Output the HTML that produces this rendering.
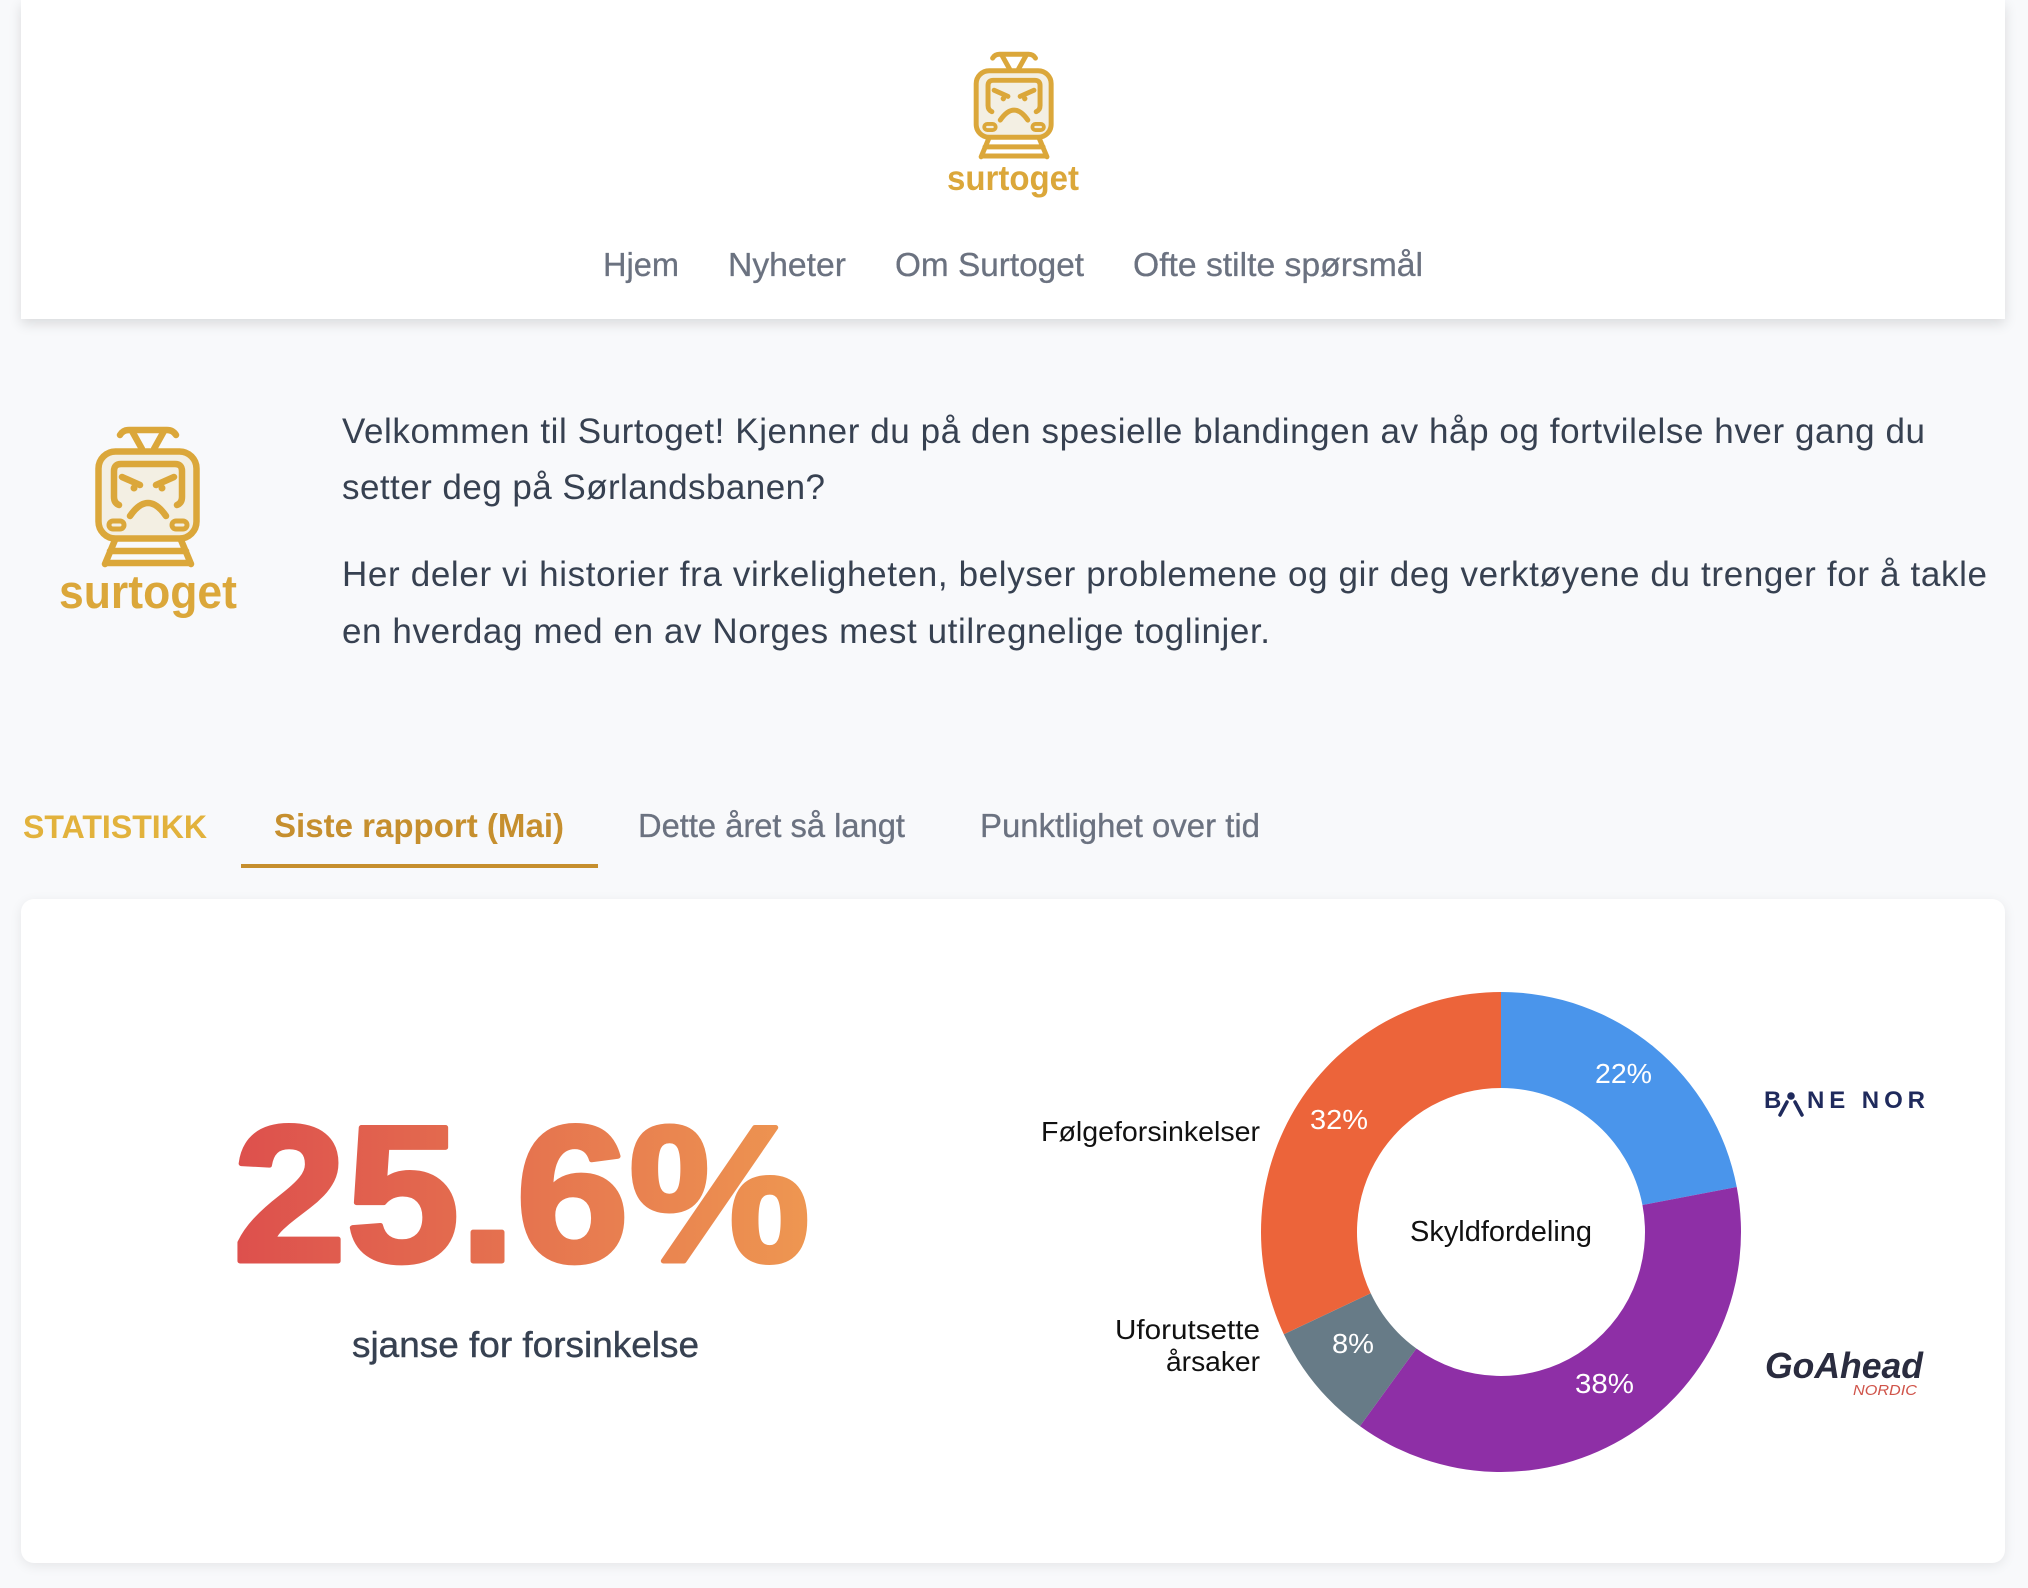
<!DOCTYPE html>
<html>
<head>
<meta charset="utf-8">
<style>
  html, body { margin:0; padding:0; }
  body { width:2028px; height:1588px; overflow:hidden; background:#f8f9fb; position:relative; font-family:"Liberation Sans", sans-serif; }
  .header { position:absolute; left:21px; top:0; width:1984px; height:319px; background:#fff; box-shadow:0 5px 12px rgba(0,0,0,0.12); }
  .card { position:absolute; left:21px; top:899px; width:1984px; height:664px; background:#fff; border-radius:13px; box-shadow:0 3px 12px rgba(0,0,0,0.08); }
  svg.main { position:absolute; left:0; top:0; }
  text { font-family:"Liberation Sans", sans-serif; }
</style>
</head>
<body>
<div class="header"></div>
<div class="card"></div>
<svg class="main" width="2028" height="1588" viewBox="0 0 2028 1588" xmlns="http://www.w3.org/2000/svg">
  <defs>
    <linearGradient id="numgrad" gradientUnits="userSpaceOnUse" x1="237" y1="0" x2="812" y2="0">
      <stop offset="0" stop-color="#dd504d"/>
      <stop offset="1" stop-color="#ee9751"/>
    </linearGradient>
  </defs>

  <!-- Header icon -->
  <g transform="translate(973.5,52) scale(0.765)" fill="none" stroke="#dba73a" stroke-width="6.5" stroke-linecap="round" stroke-linejoin="round">
    <path d="M25,8 Q28,3 34,3 L72,3 Q78,3 81,8"/>
    <path d="M37,4 L47,22 M69,4 L59,22"/>
    <rect x="3.5" y="24.5" width="98" height="87" rx="17" fill="#f3efe3"/>
    <path d="M24,78 Q19,76 19,70 L19,44 Q19,37 26,37 L80,37 Q87,37 87,44 L87,70 Q87,76 82,78"/>
    <path d="M27,50 L45,58 M79,50 L61,58"/>
    <circle cx="39" cy="61" r="3.5" fill="#dba73a" stroke="none"/>
    <circle cx="67" cy="61" r="3.5" fill="#dba73a" stroke="none"/>
    <path d="M35,89 Q53,63 71,89"/>
    <rect x="14" y="94" width="15" height="8" rx="4" stroke-width="5"/>
    <rect x="77" y="94" width="15" height="8" rx="4" stroke-width="5"/>
    <path d="M20,113 L10,137 M86,113 L96,137 M15,124 L91,124 M11,136 L95,136"/>
  </g>
  <text x="947" y="190" font-size="35" font-weight="bold" fill="#dba73a" textLength="132" lengthAdjust="spacingAndGlyphs">surtoget</text>

  <!-- Nav -->
  <text x="603" y="276" font-size="33" fill="#6b7280" stroke="#6b7280" stroke-width="0.3" textLength="76" lengthAdjust="spacingAndGlyphs">Hjem</text>
  <text x="728" y="276" font-size="33" fill="#6b7280" stroke="#6b7280" stroke-width="0.3" textLength="118" lengthAdjust="spacingAndGlyphs">Nyheter</text>
  <text x="895" y="276" font-size="33" fill="#6b7280" stroke="#6b7280" stroke-width="0.3" textLength="189" lengthAdjust="spacingAndGlyphs">Om Surtoget</text>
  <text x="1133" y="276" font-size="33" fill="#6b7280" stroke="#6b7280" stroke-width="0.3" textLength="290" lengthAdjust="spacingAndGlyphs">Ofte stilte spørsmål</text>

  <!-- Intro icon -->
  <g transform="translate(95,427)" fill="none" stroke="#dba73a" stroke-width="6.5" stroke-linecap="round" stroke-linejoin="round">
    <path d="M25,8 Q28,3 34,3 L72,3 Q78,3 81,8"/>
    <path d="M37,4 L47,22 M69,4 L59,22"/>
    <rect x="3.5" y="24.5" width="98" height="87" rx="17" fill="#f3efe3"/>
    <path d="M24,78 Q19,76 19,70 L19,44 Q19,37 26,37 L80,37 Q87,37 87,44 L87,70 Q87,76 82,78"/>
    <path d="M27,50 L45,58 M79,50 L61,58"/>
    <circle cx="39" cy="61" r="3.5" fill="#dba73a" stroke="none"/>
    <circle cx="67" cy="61" r="3.5" fill="#dba73a" stroke="none"/>
    <path d="M35,89 Q53,63 71,89"/>
    <rect x="14" y="94" width="15" height="8" rx="4" stroke-width="5"/>
    <rect x="77" y="94" width="15" height="8" rx="4" stroke-width="5"/>
    <path d="M20,113 L10,137 M86,113 L96,137 M15,124 L91,124 M11,136 L95,136"/>
  </g>
  <text x="59" y="608" font-size="47" font-weight="bold" fill="#dba73a" textLength="178" lengthAdjust="spacingAndGlyphs">surtoget</text>

  <!-- Paragraphs -->
  <text x="342" y="443" font-size="35" fill="#374151" textLength="1583" lengthAdjust="spacing">Velkommen til Surtoget! Kjenner du på den spesielle blandingen av håp og fortvilelse hver gang du</text>
  <text x="342" y="499" font-size="35" fill="#374151" textLength="483" lengthAdjust="spacing">setter deg på Sørlandsbanen?</text>
  <text x="342" y="586" font-size="35" fill="#374151" textLength="1645" lengthAdjust="spacing">Her deler vi historier fra virkeligheten, belyser problemene og gir deg verktøyene du trenger for å takle</text>
  <text x="342" y="643" font-size="35" fill="#374151" textLength="928" lengthAdjust="spacing">en hverdag med en av Norges mest utilregnelige toglinjer.</text>

  <!-- Tabs -->
  <text x="23" y="838" font-size="32" font-weight="bold" fill="#e2b23c" textLength="184" lengthAdjust="spacingAndGlyphs">STATISTIKK</text>
  <text x="274" y="837" font-size="33" font-weight="bold" fill="#c68f2e" textLength="290" lengthAdjust="spacingAndGlyphs">Siste rapport (Mai)</text>
  <text x="638" y="837" font-size="33" fill="#6b7280" stroke="#6b7280" stroke-width="0.3" textLength="267" lengthAdjust="spacingAndGlyphs">Dette året så langt</text>
  <text x="980" y="837" font-size="33" fill="#6b7280" stroke="#6b7280" stroke-width="0.3" textLength="280" lengthAdjust="spacingAndGlyphs">Punktlighet over tid</text>
  <rect x="241" y="864" width="357" height="4" fill="#c68f2e"/>

  <!-- Big number -->
  <text x="233" y="1261" font-size="194" font-weight="bold" fill="url(#numgrad)" stroke="url(#numgrad)" stroke-width="5" stroke-linejoin="round" textLength="577" lengthAdjust="spacingAndGlyphs">25.6%</text>
  <text x="352" y="1357" font-size="36" fill="#374151" stroke="#374151" stroke-width="0.4" textLength="347" lengthAdjust="spacingAndGlyphs">sjanse for forsinkelse</text>

  <!-- Donut -->
  <path d="M1501,992 A240,240 0 0 1 1736.75,1187.03 L1642.45,1205.02 A144,144 0 0 0 1501,1088 Z" fill="#4a95eb"/>
  <path d="M1736.75,1187.03 A240,240 0 0 1 1359.93,1426.16 L1416.36,1348.50 A144,144 0 0 0 1642.45,1205.02 Z" fill="#8e2fa6"/>
  <path d="M1359.93,1426.16 A240,240 0 0 1 1283.84,1334.19 L1370.70,1293.31 A144,144 0 0 0 1416.36,1348.50 Z" fill="#677b87"/>
  <path d="M1283.84,1334.19 A240,240 0 0 1 1501,992 L1501,1088 A144,144 0 0 0 1370.70,1293.31 Z" fill="#ec643a"/>

  <text x="1595" y="1083" font-size="28" fill="#ffffff" textLength="57" lengthAdjust="spacingAndGlyphs">22%</text>
  <text x="1310" y="1129" font-size="28" fill="#ffffff" textLength="58" lengthAdjust="spacingAndGlyphs">32%</text>
  <text x="1332" y="1353" font-size="28" fill="#ffffff" textLength="42" lengthAdjust="spacingAndGlyphs">8%</text>
  <text x="1575" y="1393" font-size="28" fill="#ffffff" textLength="59" lengthAdjust="spacingAndGlyphs">38%</text>

  <text x="1410" y="1241" font-size="29" fill="#111111" textLength="182" lengthAdjust="spacingAndGlyphs">Skyldfordeling</text>
  <text x="1041" y="1141" font-size="28" fill="#111111" textLength="219" lengthAdjust="spacingAndGlyphs">Følgeforsinkelser</text>
  <text x="1115" y="1339" font-size="28" fill="#111111" textLength="145" lengthAdjust="spacingAndGlyphs">Uforutsette</text>
  <text x="1166" y="1371" font-size="28" fill="#111111" textLength="94" lengthAdjust="spacingAndGlyphs">årsaker</text>

  <!-- BANE NOR logo -->
  <text x="1764" y="1108" font-size="24" font-weight="bold" fill="#1f2a5c">B</text>
  <circle cx="1791" cy="1096" r="3.8" fill="#1f2a5c"/>
  <path d="M1787,1102 L1780,1115 M1795,1102 L1802,1115" stroke="#1f2a5c" stroke-width="3.5" stroke-linecap="round" fill="none"/>
  <text x="1807" y="1108" font-size="24" font-weight="bold" fill="#1f2a5c" textLength="118" lengthAdjust="spacing">NE NOR</text>

  <!-- GoAhead logo -->
  <text x="1765" y="1378" font-size="36" font-weight="bold" font-style="italic" fill="#2a2c3f" textLength="158" lengthAdjust="spacingAndGlyphs">GoAhead</text>
  <text x="1853" y="1395" font-size="15" font-style="italic" fill="#d0544a" textLength="64" lengthAdjust="spacingAndGlyphs">NORDIC</text>
</svg>
</body>
</html>
